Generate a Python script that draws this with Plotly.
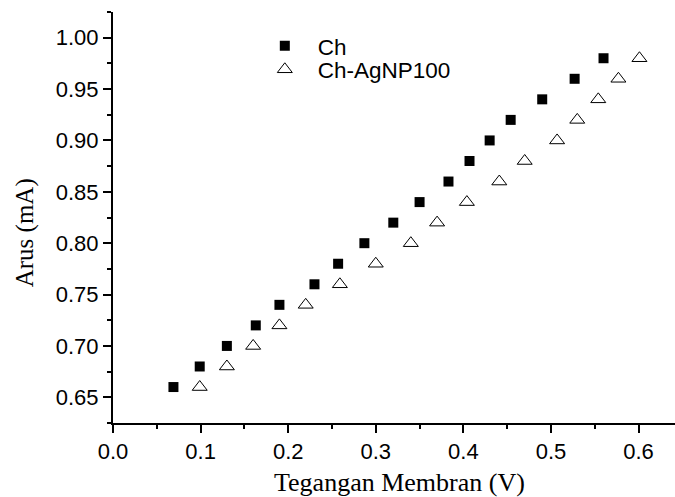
import plotly.graph_objects as go

ch_x = [0.069, 0.099, 0.130, 0.163, 0.190, 0.230, 0.257, 0.287, 0.320, 0.350, 0.383, 0.407, 0.430, 0.454, 0.490, 0.527, 0.560]
ch_y = [0.66, 0.68, 0.70, 0.72, 0.74, 0.76, 0.78, 0.80, 0.82, 0.84, 0.86, 0.88, 0.90, 0.92, 0.94, 0.96, 0.98]
ag_x = [0.099, 0.130, 0.160, 0.190, 0.220, 0.259, 0.300, 0.340, 0.370, 0.404, 0.441, 0.470, 0.507, 0.530, 0.554, 0.577, 0.601]
ag_y = [0.66, 0.68, 0.70, 0.72, 0.74, 0.76, 0.78, 0.80, 0.82, 0.84, 0.86, 0.88, 0.90, 0.92, 0.94, 0.96, 0.98]

x_ticks = [0.0, 0.1, 0.2, 0.3, 0.4, 0.5, 0.6]
x_labels = ["0.0", "0.1", "0.2", "0.3", "0.4", "0.5", "0.6"]
y_ticks = [0.65, 0.70, 0.75, 0.80, 0.85, 0.90, 0.95, 1.00]
y_labels = ["0.65", "0.70", "0.75", "0.80", "0.85", "0.90", "0.95", "1.00"]

x_title = "Tegangan Membran (V)"
y_title = "Arus (mA)"

fig = go.Figure()
fig.add_trace(go.Scatter(x=ch_x, y=ch_y, mode="markers", name="Ch", legend="legend",
                         marker=dict(symbol="square", size=10, color="black")))
fig.add_trace(go.Scatter(x=ag_x, y=ag_y, mode="markers", name="Ch-AgNP100", legend="legend2",
                         marker=dict(symbol="triangle-up-open", size=13, color="black",
                                     line=dict(width=1, color="black"))))

axis_common = dict(showgrid=False, zeroline=False, showline=True, linecolor="black", linewidth=2,
                   ticks="outside", ticklen=8, tickwidth=1.5, tickcolor="black",
                   tickfont=dict(family="Liberation Sans, Arial", size=22, color="black"))

fig.update_xaxes(range=[0, 0.6416], tickvals=x_ticks, ticktext=x_labels,
                 minor=dict(dtick=0.05, ticks="outside", ticklen=4, tickwidth=1.5, tickcolor="black"),
                 **axis_common)
fig.update_yaxes(range=[0.625, 1.025], tickvals=y_ticks, ticktext=y_labels,
                 minor=dict(dtick=0.025, tick0=0.625, ticks="outside", ticklen=4, tickwidth=1.5, tickcolor="black"),
                 **axis_common)

fig.add_annotation(text=x_title, xref="paper", yref="paper", x=0.509, y=-0.145,
                   xanchor="center", yanchor="middle", showarrow=False,
                   font=dict(family="Liberation Serif, Times New Roman", size=26, color="black"))
fig.add_annotation(text=y_title, xref="paper", yref="paper", x=-0.157, y=0.4635,
                   xanchor="center", yanchor="middle", showarrow=False, textangle=-90,
                   font=dict(family="Liberation Serif, Times New Roman", size=25, color="black"))

leg_common = dict(xanchor="left", yanchor="top", bgcolor="rgba(0,0,0,0)",
                  font=dict(family="Liberation Sans, Arial", size=22.5, color="black"),
                  itemsizing="trace", itemwidth=56)
fig.update_layout(width=675, height=497, paper_bgcolor="white", plot_bgcolor="white",
                  margin=dict(l=113, r=0, t=12, b=74),
                  showlegend=True,
                  legend=dict(x=0.247, y=0.969, **leg_common),
                  legend2=dict(x=0.247, y=0.912, **leg_common))

fig.write_html("out.html", config={"displayModeBar": False},
               post_script="document.body.style.margin='0';document.body.style.overflow='hidden';")
